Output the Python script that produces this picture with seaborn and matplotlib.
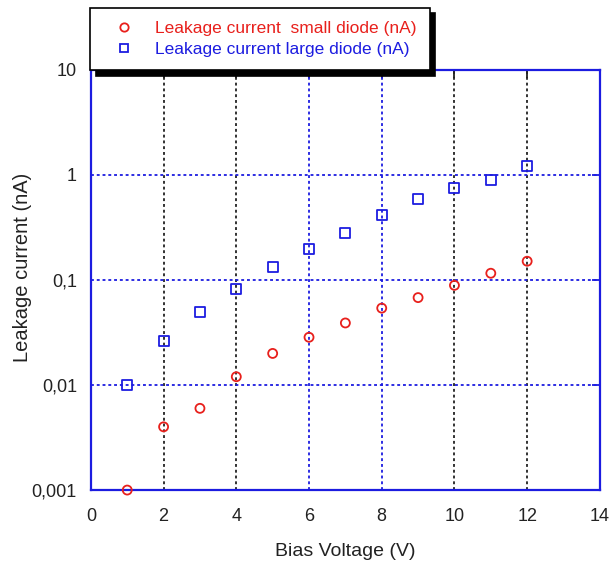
import matplotlib
matplotlib.use("Agg")
import matplotlib.pyplot as plt
from matplotlib.lines import Line2D
import seaborn as sns
import pandas as pd

voltage = [1, 2, 3, 4, 5, 6, 7, 8, 9, 10, 11, 12]
small_diode = [0.001, 0.004, 0.006, 0.012, 0.020, 0.0285, 0.039, 0.054, 0.068, 0.089, 0.116, 0.151]
large_diode = [0.010, 0.026, 0.050, 0.083, 0.133, 0.197, 0.28, 0.42, 0.59, 0.76, 0.90, 1.22]
series_names = ["Leakage current  small diode (nA)", "Leakage current large diode (nA)"]
x_ticks = [0, 2, 4, 6, 8, 10, 12, 14]
y_ticks = [0.001, 0.01, 0.1, 1, 10]
y_tick_labels = ["0,001", "0,01", "0,1", "1", "10"]

sns.set_style("white")
plt.rcParams["font.family"] = ["Liberation Sans", "DejaVu Sans"]

RED = "#e8201c"
BLUE = "#1c1ce0"
DARK = "#222222"

fig = plt.figure(figsize=(6.14, 5.62), dpi=100)
ax = fig.add_axes([0.148, 0.128, 0.829, 0.7475])

df_s = pd.DataFrame({"V": voltage, "I": small_diode})
df_l = pd.DataFrame({"V": voltage, "I": large_diode})
sns.scatterplot(data=df_s, x="V", y="I", marker="o", s=42, ax=ax, color=RED, zorder=5)
sns.scatterplot(data=df_l, x="V", y="I", marker="s", s=52, ax=ax, color=BLUE, zorder=5)
for coll, c in zip(ax.collections, [RED, BLUE]):
    coll.set_facecolor("none")
    coll.set_edgecolor(c)
    coll.set_linewidth(1.3)
    coll.set_clip_on(False)

ax.set_yscale("log")
ax.set_xlim(0, 14)
ax.set_ylim(0.001, 10)

# grid
for xv in [2, 4, 6, 8, 10, 12]:
    col = BLUE if xv in (6, 8) else DARK
    ax.axvline(xv, color=col, lw=1.3, ls=(0, (1.6, 1.6)), zorder=1)
for yv in [0.01, 0.1, 1]:
    ax.axhline(yv, color=BLUE, lw=1.3, ls=(0, (1.6, 1.6)), zorder=1)

ax.set_xticks(x_ticks)
ax.set_xticklabels([str(t) for t in x_ticks])
ax.set_yticks(y_ticks)
ax.set_yticklabels(y_tick_labels)
ax.yaxis.set_minor_locator(matplotlib.ticker.NullLocator())
ax.tick_params(axis="both", direction="in", length=6, width=1.3, labelsize=13,
               labelcolor=DARK, pad=14)
ax.tick_params(axis="y", right=True, color=BLUE, pad=10)
ax.tick_params(axis="x", top=True, color=DARK, pad=13)
for t, xv in zip(ax.xaxis.get_major_ticks(), x_ticks):
    if xv in (6, 8):
        t.tick1line.set_color(BLUE)
        t.tick2line.set_color(BLUE)

for sp in ax.spines.values():
    sp.set_color(BLUE)
    sp.set_linewidth(1.6)
    sp.set_visible(True)

ax.set_xlabel("Bias Voltage (V)", fontsize=14, color=DARK, labelpad=13)
ax.set_ylabel("Leakage current (nA)", fontsize=14.5, color=DARK, labelpad=5)
ax.yaxis.set_label_coords(-0.115, 0.53)

handles = [
    Line2D([], [], marker="o", ls="", mfc="none", mec=RED, mew=1.3, ms=6),
    Line2D([], [], marker="s", ls="", mfc="none", mec=BLUE, mew=1.3, ms=6),
]
leg = fig.legend(handles, series_names, loc="upper left", bbox_to_anchor=(0.147, 0.986),
                 borderaxespad=0, frameon=True, fancybox=False, fontsize=12.5,
                 handletextpad=0.6, borderpad=0.75, labelspacing=0.35, handlelength=2.4,
                 shadow={"color": "black", "alpha": 1.0, "ox": 4, "oy": -4})
leg.get_frame().set_edgecolor("black")
leg.get_frame().set_linewidth(1.2)
leg.set_zorder(10)
for txt, c in zip(leg.get_texts(), [RED, BLUE]):
    txt.set_color(c)

fig.savefig("out.png", dpi=100)
